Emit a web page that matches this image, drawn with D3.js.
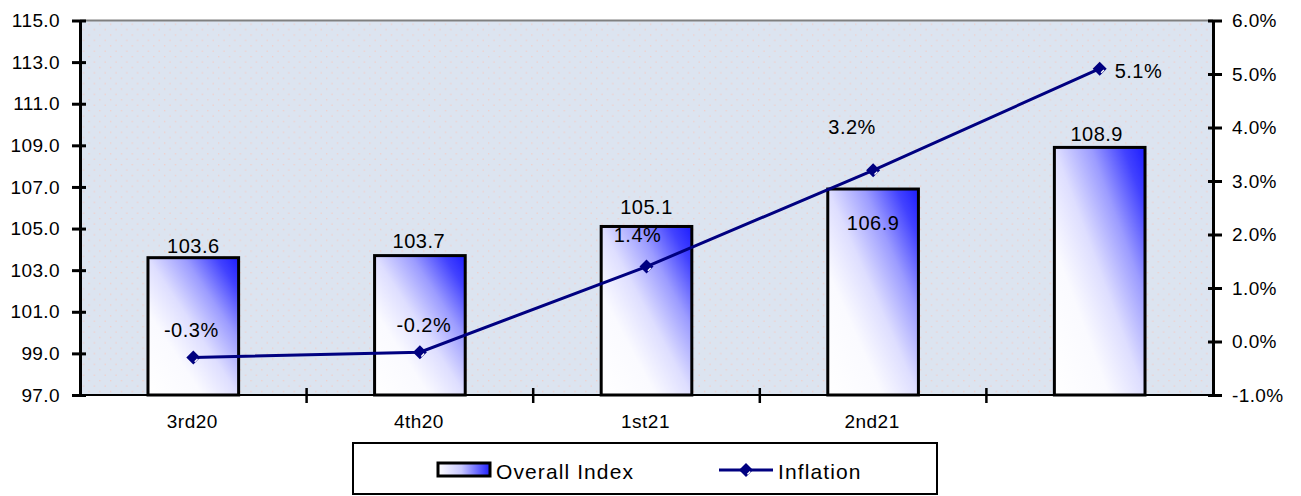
<!DOCTYPE html>
<html>
<head>
<meta charset="utf-8">
<script src="https://cdn.jsdelivr.net/npm/d3@7/dist/d3.min.js"></script>
<style>
  html, body { margin: 0; padding: 0; background: #ffffff; }
  svg { display: block; font-family: "Liberation Sans", Arial, sans-serif; }
  text { fill: #000; }
</style>
</head>
<body>
<svg id="chart" width="1301" height="496"></svg>
<script>
// Quarterly overall price index (bars, left axis) and inflation rate (line, right axis)
const categories = ["3rd20", "4th20", "1st21", "2nd21", ""];
const overallIndex = [103.6, 103.7, 105.1, 106.9, 108.9];
const inflation = [-0.3, -0.2, 1.4, 3.2, 5.1];
const leftTicks = [97, 99, 101, 103, 105, 107, 109, 111, 113, 115];
const rightTicks = [-1, 0, 1, 2, 3, 4, 5, 6];
const seriesNames = ["Overall Index", "Inflation"];

// Hand-placed label nudges (dx, dy to the baseline) for readability
const indexLabelNudge = [[0, -5], [-1, -8], [0, -12], [0, 41], [-3, -6]];
const inflationLabelNudge = [[-2, -21], [4, -20], [-9, -25], [-21, -36], [15, 9]];

// Plain hyphen for negative numbers
const locale = d3.formatLocale({ decimal: ".", thousands: ",", grouping: [3], currency: ["", ""], minus: "-" });
const fmt1 = locale.format(".1f");
const fmtPct = d => fmt1(d) + "%";

const svg = d3.select("#chart");
const plot = { left: 80, right: 1213, top: 20.5, bottom: 395 };

const defs = svg.append("defs");

// Diagonal bar fill: saturated blue in the top-right corner fading to white at bottom-left
const barGrad = defs.append("linearGradient")
  .attr("id", "barFill")
  .attr("x1", 1).attr("y1", 0).attr("x2", 0).attr("y2", 1);
[[0, "#1c1cff"], [0.12, "#4242ff"], [0.3, "#9c9cff"], [0.5, "#dedeff"], [0.7, "#fafaff"], [1, "#ffffff"]]
  .forEach(([o, c]) => barGrad.append("stop").attr("offset", o).attr("stop-color", c));

const legendGrad = defs.append("linearGradient")
  .attr("id", "legendFill")
  .attr("x1", 0).attr("y1", 0).attr("x2", 1).attr("y2", 0);
[[0, "#ffffff"], [0.45, "#c8c8ff"], [1, "#2020ff"]]
  .forEach(([o, c]) => legendGrad.append("stop").attr("offset", o).attr("stop-color", c));

// Faint dotted texture of the plot area
const dots = defs.append("pattern")
  .attr("id", "dots")
  .attr("patternUnits", "userSpaceOnUse")
  .attr("width", 10.8).attr("height", 10.8);
dots.append("rect").attr("width", 10.8).attr("height", 10.8).attr("fill", "#dce4f0");
dots.append("rect").attr("x", 2).attr("y", 2).attr("width", 1.3).attr("height", 1.3).attr("fill", "#f2cdc8");
dots.append("rect").attr("x", 7.4).attr("y", 7.4).attr("width", 1.3).attr("height", 1.3).attr("fill", "#f2cdc8");

// Scales
const x = d3.scaleBand()
  .domain(categories.map((d, i) => i))
  .range([plot.left, plot.right])
  .paddingInner(0).paddingOuter(0);
const yLeft = d3.scaleLinear().domain([97, 115]).range([plot.bottom, plot.top]);
const yRight = d3.scaleLinear().domain([-1, 6]).range([plot.bottom, plot.top]);

const barW = x.bandwidth() * 0.4;
const cx = i => x(i) + x.bandwidth() / 2;

// Plot background
svg.append("rect")
  .attr("x", plot.left).attr("y", plot.top)
  .attr("width", plot.right - plot.left).attr("height", plot.bottom - plot.top)
  .attr("fill", "url(#dots)");

svg.append("line")
  .attr("x1", plot.left).attr("x2", plot.right)
  .attr("y1", plot.top).attr("y2", plot.top)
  .attr("stroke", "#808080").attr("stroke-width", 2);

// Bars
svg.append("g").selectAll("rect")
  .data(overallIndex)
  .join("rect")
  .attr("x", (d, i) => cx(i) - barW / 2)
  .attr("y", d => yLeft(d))
  .attr("width", barW)
  .attr("height", d => yLeft(97) - yLeft(d))
  .attr("fill", "url(#barFill)")
  .attr("stroke", "#000")
  .attr("stroke-width", 3);

// Axes
const fontSize = 19;

const leftAxis = svg.append("g")
  .attr("transform", `translate(${plot.left},0)`)
  .call(d3.axisLeft(yLeft).tickValues(leftTicks).tickFormat(fmt1)
    .tickSizeInner(8).tickSizeOuter(0).tickPadding(12));
leftAxis.selectAll(".tick line").attr("x1", 6).attr("x2", -8).attr("stroke-width", 3);
leftAxis.select(".domain").attr("stroke-width", 3);

const rightAxis = svg.append("g")
  .attr("transform", `translate(${plot.right},0)`)
  .call(d3.axisRight(yRight).tickValues(rightTicks).tickFormat(fmtPct)
    .tickSizeInner(9).tickSizeOuter(0).tickPadding(10));
rightAxis.selectAll(".tick line").attr("x1", -5).attr("x2", 9).attr("stroke-width", 3);
rightAxis.select(".domain").attr("stroke-width", 3);

[leftAxis, rightAxis].forEach(g => g.selectAll("text")
  .attr("font-size", fontSize).attr("font-family", "Liberation Sans, Arial, sans-serif")
  .style("letter-spacing", "0.4px").attr("fill", "#000"));

// Category axis: ticks sit on the boundaries between quarters
const bottom = svg.append("g");
bottom.append("line")
  .attr("x1", plot.left).attr("x2", plot.right)
  .attr("y1", plot.bottom).attr("y2", plot.bottom)
  .attr("stroke", "#000").attr("stroke-width", 2);
bottom.selectAll("line.tick")
  .data(categories.slice(1).map((d, i) => i + 1))
  .join("line")
  .attr("class", "tick")
  .attr("x1", i => x(i)).attr("x2", i => x(i))
  .attr("y1", plot.bottom - 7).attr("y2", plot.bottom + 8)
  .attr("stroke", "#000").attr("stroke-width", 2.5);
bottom.selectAll("text")
  .data(categories)
  .join("text")
  .attr("x", (d, i) => cx(i) - 1)
  .attr("y", 428)
  .attr("text-anchor", "middle")
  .attr("font-size", fontSize)
  .style("letter-spacing", "0.5px")
  .text(d => d);

// Inflation line
const lineColor = "#000080";
const line = d3.line()
  .x((d, i) => cx(i))
  .y(d => yRight(d));
svg.append("path")
  .datum(inflation)
  .attr("d", line)
  .attr("fill", "none")
  .attr("stroke", lineColor)
  .attr("stroke-width", 3);

function drawDiamond(g, px, py, r) {
  g.append("path")
    .attr("d", `M${px},${py - r}L${px + r},${py}L${px},${py + r}L${px - r},${py}Z`)
    .attr("fill", lineColor);
  g.append("line")
    .attr("x1", px + r * 0.2).attr("y1", py + r * 0.6)
    .attr("x2", px + r * 0.6).attr("y2", py + r * 0.2)
    .attr("stroke", "#ffffff").attr("stroke-width", 1.4);
}
const markers = svg.append("g");
inflation.forEach((d, i) => drawDiamond(markers, cx(i), yRight(d), 7));

// Value labels
svg.append("g").selectAll("text")
  .data(overallIndex)
  .join("text")
  .attr("x", (d, i) => cx(i) + indexLabelNudge[i][0])
  .attr("y", (d, i) => yLeft(d) + indexLabelNudge[i][1])
  .attr("text-anchor", "middle")
  .attr("font-size", 20)
  .style("letter-spacing", "0.5px")
  .text(d => fmt1(d));

svg.append("g").selectAll("text")
  .data(inflation)
  .join("text")
  .attr("x", (d, i) => cx(i) + inflationLabelNudge[i][0])
  .attr("y", (d, i) => yRight(d) + inflationLabelNudge[i][1])
  .attr("text-anchor", (d, i) => i === inflation.length - 1 ? "start" : "middle")
  .attr("font-size", 20)
  .style("letter-spacing", "0.5px")
  .text(d => fmtPct(d));

// Legend
const legend = svg.append("g");
legend.append("rect")
  .attr("x", 353).attr("y", 443).attr("width", 584).attr("height", 51)
  .attr("fill", "#ffffff").attr("stroke", "#000").attr("stroke-width", 2);
legend.append("rect")
  .attr("x", 438).attr("y", 463).attr("width", 52).attr("height", 13)
  .attr("fill", "url(#legendFill)").attr("stroke", "#000").attr("stroke-width", 3);
legend.append("text")
  .attr("x", 496).attr("y", 479)
  .attr("font-size", 21).style("letter-spacing", "1.1px")
  .text(seriesNames[0]);
legend.append("line")
  .attr("x1", 719).attr("x2", 773).attr("y1", 470).attr("y2", 470)
  .attr("stroke", lineColor).attr("stroke-width", 3);
drawDiamond(legend, 746, 470, 7);
legend.append("text")
  .attr("x", 778).attr("y", 479)
  .attr("font-size", 21).style("letter-spacing", "1.1px")
  .text(seriesNames[1]);
</script>
</body>
</html>
